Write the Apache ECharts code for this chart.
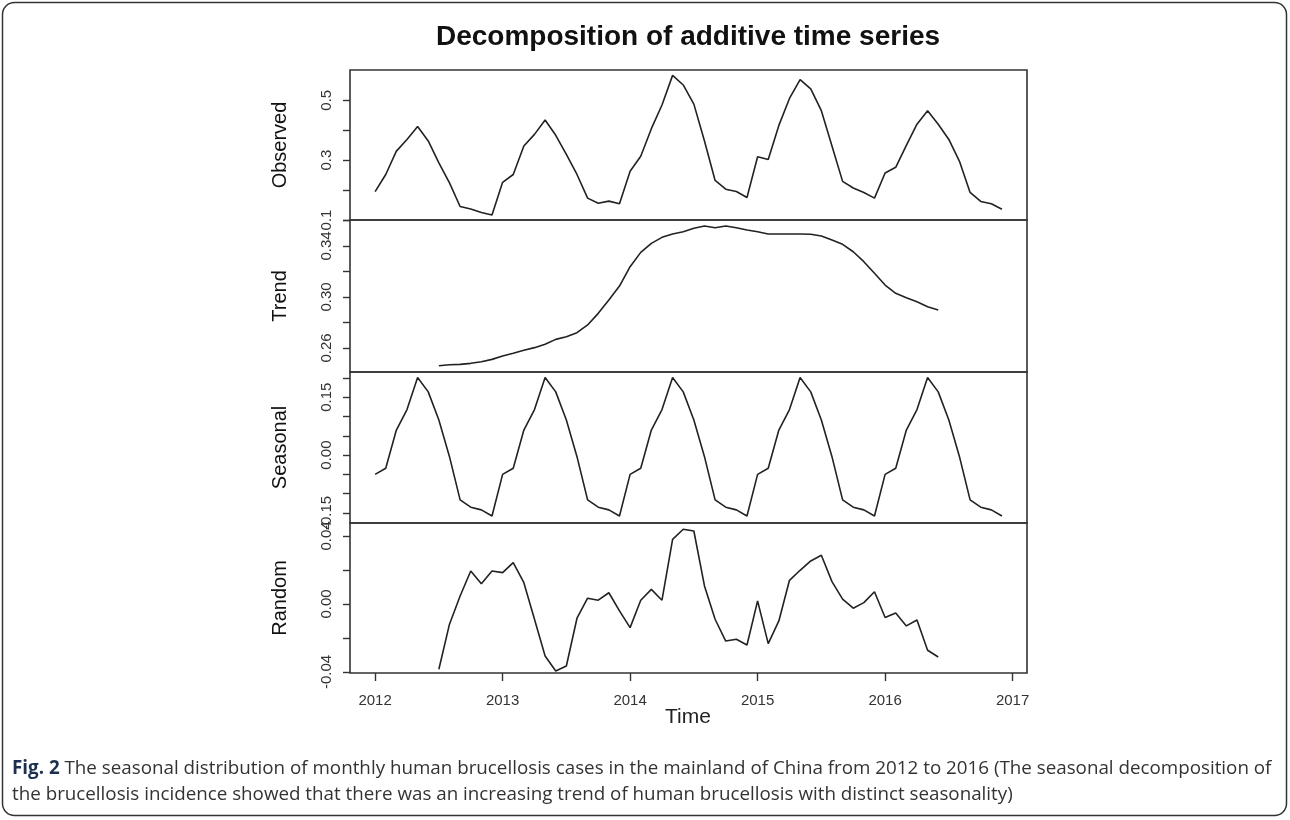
<!DOCTYPE html>
<html>
<head>
<meta charset="utf-8">
<title>Decomposition of additive time series</title>
<script src="https://cdn.jsdelivr.net/npm/echarts@6/dist/echarts.min.js"></script>
<style>
  html, body { margin: 0; padding: 0; background: #fff; }
  #chart { width: 1290px; height: 820px; }
</style>
</head>
<body>
<div id="chart"></div>
<script>
// monthly series, Jan 2012 .. Dec 2016
var startYear = 2012;
var yearTicks = [2012, 2013, 2014, 2015, 2016, 2017];

var observed = [
  0.195, 0.252, 0.330, 0.369, 0.412, 0.364, 0.291, 0.224, 0.145, 0.137, 0.125, 0.117,
  0.226, 0.252, 0.347, 0.386, 0.434, 0.383, 0.319, 0.252, 0.173, 0.156, 0.163, 0.154,
  0.263, 0.313, 0.405, 0.484, 0.583, 0.551, 0.487, 0.364, 0.232, 0.203, 0.195, 0.175,
  0.311, 0.302, 0.416, 0.506, 0.569, 0.538, 0.465, 0.347, 0.229, 0.207, 0.192, 0.173,
  0.257, 0.276, 0.349, 0.420, 0.465, 0.420, 0.369, 0.296, 0.192, 0.162, 0.154, 0.136
];

var trend = [
  null, null, null, null, null, null, 0.2461, 0.2469, 0.2472, 0.2480, 0.2493, 0.2511,
  0.2538, 0.2559, 0.2582, 0.2603, 0.2629, 0.2668, 0.2689, 0.2720, 0.2781, 0.2872, 0.2977, 0.3086,
  0.3238, 0.3350, 0.3421, 0.3468, 0.3494, 0.3512, 0.3539, 0.3557, 0.3543, 0.3557, 0.3543, 0.3525,
  0.3512, 0.3494, 0.3494, 0.3494, 0.3494, 0.3492, 0.3478, 0.3447, 0.3413, 0.3355, 0.3277, 0.3186,
  0.3094, 0.3029, 0.2995, 0.2963, 0.2924, 0.2898, null, null, null, null, null, null
];

var seasonal = [
  -0.050, -0.034, 0.065, 0.118, 0.201, 0.164, 0.091, -0.004, -0.116, -0.135, -0.142, -0.158,
  -0.050, -0.034, 0.065, 0.118, 0.201, 0.164, 0.091, -0.004, -0.116, -0.135, -0.142, -0.158,
  -0.050, -0.034, 0.065, 0.118, 0.201, 0.164, 0.091, -0.004, -0.116, -0.135, -0.142, -0.158,
  -0.050, -0.034, 0.065, 0.118, 0.201, 0.164, 0.091, -0.004, -0.116, -0.135, -0.142, -0.158,
  -0.050, -0.034, 0.065, 0.118, 0.201, 0.164, 0.091, -0.004, -0.116, -0.135, -0.142, -0.158
];

var random = [
  null, null, null, null, null, null, -0.0384, -0.0119, 0.0047, 0.0194, 0.0119, 0.0194,
  0.0184, 0.0243, 0.0125, -0.0090, -0.0306, -0.0394, -0.0365, -0.0084, 0.0034, 0.0022, 0.0066, -0.0041,
  -0.0139, 0.0022, 0.0086, 0.0022, 0.0380, 0.0439, 0.0429, 0.0106, -0.0090, -0.0218, -0.0208, -0.0241,
  0.0018, -0.0233, -0.0100, 0.0139, 0.0198, 0.0253, 0.0286, 0.0131, 0.0028, -0.0025, 0.0008, 0.0072,
  -0.0080, -0.0053, -0.0129, -0.0094, -0.0272, -0.0312, null, null, null, null, null, null
];

// panel names, ranges, ticks, labelled ticks
var panelNames = ["Observed", "Trend", "Seasonal", "Random"];
var panelData = [observed, trend, seasonal, random];
var panelRange = [[0.1, 0.601], [0.2412, 0.3604], [-0.176, 0.2155], [-0.0406, 0.0476]];
var panelTicks = [
  [0.1, 0.2, 0.3, 0.4, 0.5],
  [0.26, 0.28, 0.30, 0.32, 0.34, 0.36],
  [-0.15, -0.10, -0.05, 0.00, 0.05, 0.10, 0.15, 0.20],
  [-0.04, -0.02, 0.00, 0.02, 0.04]
];
var panelLabels = [
  [0.1, 0.3, 0.5],
  [0.26, 0.30, 0.34],
  [-0.15, 0.00, 0.15],
  [-0.04, 0.00, 0.04]
];
var labelDigits = [1, 2, 2, 2];

var chart = echarts.init(document.getElementById("chart"));

var font = "'Liberation Sans', Arial, sans-serif";
var capFont = "'Open Sans', sans-serif";
var ink = "#222";
var panelTop = [70, 220, 372, 523];
var panelHeight = [150, 152, 151, 150];

var grids = [], xAxes = [], yAxes = [], series = [];

panelNames.forEach(function (name, p) {
  var last = p === panelNames.length - 1;
  grids.push({
    left: 350, right: 263, top: panelTop[p], height: panelHeight[p],
    show: true, borderColor: "#333", borderWidth: 1.6, backgroundColor: "transparent"
  });
  xAxes.push({
    type: "value", gridIndex: p, min: 2011.803, max: 2017.113, position: "bottom",
    axisLine: { show: false, onZero: false },
    splitLine: { show: false },
    axisTick: { show: last, length: 8, lineStyle: { color: "#333", width: 1.4 }, customValues: yearTicks },
    axisLabel: {
      show: last, customValues: yearTicks, fontSize: 15, fontFamily: font, color: "#333", margin: 20,
      formatter: function (v) { return String(v); }
    }
  });
  var digits = labelDigits[p];
  yAxes.push({
    type: "value", gridIndex: p, min: panelRange[p][0], max: panelRange[p][1],
    name: name, nameLocation: "middle", nameRotate: 90, nameGap: 60,
    nameTextStyle: { fontSize: 20, fontFamily: font, color: "#111" },
    axisLine: { show: false, onZero: false },
    splitLine: { show: false },
    axisTick: { show: true, length: 7, lineStyle: { color: "#333", width: 1.4 }, customValues: panelTicks[p] },
    axisLabel: {
      customValues: panelLabels[p], rotate: 90, fontSize: 15, fontFamily: font, color: "#333", margin: 16,
      formatter: function (v) { return Number(v).toFixed(digits); }
    }
  });
  var pts = [];
  panelData[p].forEach(function (v, i) {
    if (v !== null) pts.push([startYear + i / 12, v]);
  });
  series.push({
    type: "line", xAxisIndex: p, yAxisIndex: p, data: pts,
    showSymbol: false, silent: true, animation: false,
    lineStyle: { color: ink, width: 1.6 }
  });
});

chart.setOption({
  animation: false,
  grid: grids,
  xAxis: xAxes,
  yAxis: yAxes,
  series: series,
  graphic: [
    {
      type: "rect", silent: true,
      shape: { x: 2.5, y: 2.5, width: 1284, height: 813, r: 12 },
      style: { fill: "none", stroke: "#333", lineWidth: 1.5 }
    },
    {
      type: "text", silent: true, x: 688, y: 37,
      style: {
        text: "Decomposition of additive time series", font: "bold 28px " + font,
        fill: "#111", textAlign: "center", textVerticalAlign: "middle"
      }
    },
    {
      type: "text", silent: true, x: 688, y: 717,
      style: {
        text: "Time", font: "21px " + font,
        fill: "#222", textAlign: "center", textVerticalAlign: "middle"
      }
    },
    {
      type: "text", silent: true, x: 12, y: 769,
      style: {
        text: "{b|Fig. 2} The seasonal distribution of monthly human brucellosis cases in the mainland of China from 2012 to 2016 (The seasonal decomposition of",
        font: "18.8px " + capFont, fill: "#333", textVerticalAlign: "middle",
        rich: { b: { fontWeight: "bold", fontSize: 18.8, fontFamily: capFont, fill: "#1e3050" } }
      }
    },
    {
      type: "text", silent: true, x: 12, y: 795,
      style: {
        text: "the brucellosis incidence showed that there was an increasing trend of human brucellosis with distinct seasonality)",
        font: "18.8px " + capFont, fill: "#333", textVerticalAlign: "middle"
      }
    }
  ]
});
</script>
</body>
</html>
